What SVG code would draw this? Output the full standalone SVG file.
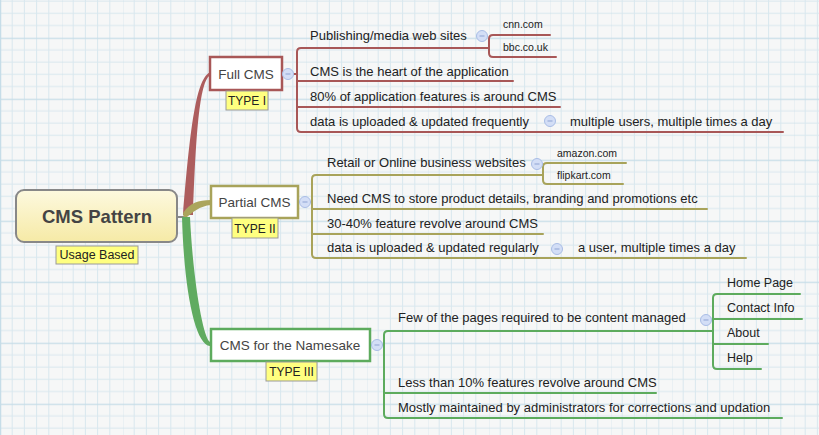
<svg xmlns="http://www.w3.org/2000/svg" width="819" height="435" viewBox="0 0 819 435">
<defs>
<pattern id="grid" patternUnits="userSpaceOnUse" x="0" y="-23.3" width="61" height="61">
<rect width="61" height="61" fill="#f6f7f7"/>
<path d="M12.2 0V61M24.4 0V61M36.6 0V61M48.8 0V61M0 12.2H61M0 24.4H61M0 36.6H61M0 48.8H61" stroke="#d9e8ef" stroke-width="1" fill="none"/>
<path d="M0.5 0V61M0 0.5H61" stroke="#c6dde8" stroke-width="1.5" fill="none"/>
</pattern>
<linearGradient id="cg" x1="0" y1="0" x2="0" y2="1">
<stop offset="0" stop-color="#fdf9df"/>
<stop offset="1" stop-color="#f6eaa6"/>
</linearGradient>
<g id="col">
<circle r="5.5" fill="#d3def6" stroke="#a9bde6" stroke-width="1"/>
<path d="M-2.5 0H2.5" stroke="#8ea3d3" stroke-width="1"/>
</g>
</defs>
<style>
text{font-family:"Liberation Sans",Arial,sans-serif;fill:#222}
.c{font-size:13px}
.s{font-size:10.5px}
.m{font-size:12.5px}
.n{font-size:13.5px;fill:#444;text-anchor:middle}
.lab{fill:#ffff80;stroke:#9a9a9a;stroke-width:1}
.lt{font-size:12px;text-anchor:middle;fill:#222}
.box{fill:#fff;stroke-width:2.5}
.r{stroke:#a85757}
.o{stroke:#a8a35a}
.g{stroke:#5dab5d}
.ln{fill:none;stroke-width:2;stroke-linecap:round}
</style>
<rect width="819" height="435" fill="url(#grid)"/>

<g id="connectors">
<path d="M177 217H186" stroke="#888" stroke-width="2"/>
<path d="M183 215C190 130 196 76 211 72L211 75C200 78 196 130 193 215Z" fill="#ad5d5d"/>
<path d="M183 213C190 203 198 200 211 200L211 205C200 206 192 212 184 220Z" fill="#aba55c"/>
<path d="M182 217C184 290 195 345 210 346L210 342C203 338 193 280 190 217Z" fill="#60ab60"/>
<!-- Full CMS -->
<g class="ln r">
<path d="M282 74H297"/>
<path d="M489 48H301Q297 48 297 52V128Q297 132 301 132H783"/>
<path d="M297 81H513M297 107H560"/>
<path d="M550 35H493Q489 35 489 39V53Q489 57 493 57H556"/>
</g>
<!-- Partial CMS -->
<g class="ln o">
<path d="M298 202H312"/>
<path d="M543 175H316Q312 175 312 179V254Q312 258 316 258H746"/>
<path d="M312 209H707M312 234H543"/>
<path d="M626 163H547Q543 163 543 167V180Q543 184 547 184H623"/>
</g>
<!-- Namesake -->
<g class="ln g">
<path d="M370 345H384"/>
<path d="M713 331H388Q384 331 384 335V414Q384 418 388 418H782"/>
<path d="M384 393H656"/>
<path d="M800 294H717Q713 294 713 298V365Q713 369 717 369H761"/>
<path d="M713 319H802M713 344H768"/>
</g>
</g>

<g id="central">
<rect x="16" y="190" width="161" height="52" rx="8" fill="url(#cg)" stroke="#888" stroke-width="2"/>
<text x="97" y="223" font-size="18.5" font-weight="bold" text-anchor="middle" style="fill:#444">CMS Pattern</text>
<rect class="lab" x="56" y="246" width="82" height="18"/>
<text x="97" y="259" font-size="12.5" text-anchor="middle">Usage Based</text>
</g>

<g id="full-cms">
<rect class="box r" x="210" y="57" width="72" height="33"/>
<text class="n" x="246" y="79">Full CMS</text>
<rect class="lab" x="226" y="91" width="42" height="19"/>
<text class="lt" x="247" y="105">TYPE I</text>
<use href="#col" x="288" y="74"/>
</g>
<g id="full-1"><text class="c" x="310" y="40">Publishing/media web sites</text><use href="#col" x="482" y="36"/></g>
<g id="full-1a"><text class="s" x="503" y="28">cnn.com</text></g>
<g id="full-1b"><text class="s" x="503" y="51">bbc.co.uk</text></g>
<g id="full-2"><text class="c" x="310" y="75.5">CMS is the heart of the application</text></g>
<g id="full-3"><text class="c" x="310" y="100.5">80% of application features is around CMS</text></g>
<g id="full-4"><text class="c" x="310" y="125.5">data is uploaded &amp; updated frequently</text><use href="#col" x="550" y="121"/></g>
<g id="full-4a"><text class="c" x="570" y="125.5">multiple users, multiple times a day</text></g>

<g id="partial-cms">
<rect class="box o" x="211" y="186" width="87" height="32"/>
<text class="n" x="254.5" y="207">Partial CMS</text>
<rect class="lab" x="232" y="218" width="46" height="20"/>
<text class="lt" x="255" y="232.5">TYPE II</text>
<use href="#col" x="305" y="202"/>
</g>
<g id="partial-1"><text class="c" x="327" y="167">Retail or Online business websites</text><use href="#col" x="537" y="164"/></g>
<g id="partial-1a"><text class="s" x="557" y="157">amazon.com</text></g>
<g id="partial-1b"><text class="s" x="557" y="178.5">flipkart.com</text></g>
<g id="partial-2"><text class="c" x="327" y="203">Need CMS to store product details, branding and promotions etc</text></g>
<g id="partial-3"><text class="c" x="327" y="228">30-40% feature revolve around CMS</text></g>
<g id="partial-4"><text class="c" x="327" y="252">data is uploaded &amp; updated regularly</text><use href="#col" x="557" y="249"/></g>
<g id="partial-4a"><text class="c" x="578" y="252">a user, multiple times a day</text></g>

<g id="namesake">
<rect class="box g" x="211" y="329" width="159" height="32"/>
<text class="n" x="290" y="350">CMS for the Namesake</text>
<rect class="lab" x="266" y="362" width="51" height="19"/>
<text class="lt" x="291.5" y="376">TYPE III</text>
<use href="#col" x="377" y="345"/>
</g>
<g id="ns-1"><text class="c" x="398" y="322">Few of the pages required to be content managed</text><use href="#col" x="706" y="320"/></g>
<g id="ns-1a"><text class="m" x="727" y="287">Home Page</text></g>
<g id="ns-1b"><text class="m" x="727" y="312">Contact Info</text></g>
<g id="ns-1c"><text class="m" x="727" y="337">About</text></g>
<g id="ns-1d"><text class="m" x="727" y="362">Help</text></g>
<g id="ns-2"><text class="c" x="398" y="387">Less than 10% features revolve around CMS</text></g>
<g id="ns-3"><text class="c" x="398" y="412">Mostly maintained by administrators for corrections and updation</text></g>
</svg>
